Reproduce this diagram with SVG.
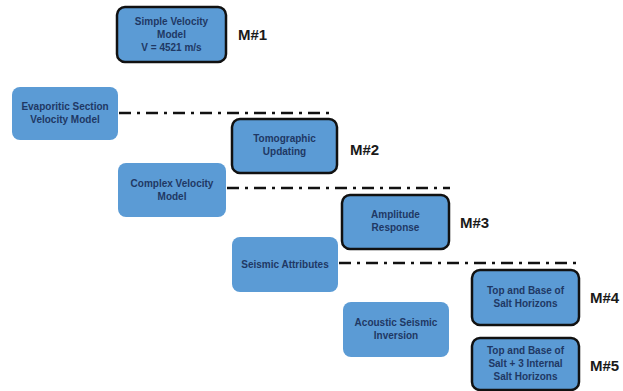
<svg xmlns="http://www.w3.org/2000/svg" width="623" height="391" viewBox="0 0 623 391">
<style>
.box{fill:#5B9BD5;}
.bord{stroke:#111;stroke-width:2.5;}
.t{font-family:"Liberation Sans",Arial,sans-serif;font-weight:bold;font-size:10px;fill:#1F3864;text-anchor:middle;}
.m{font-family:"Liberation Sans",Arial,sans-serif;font-weight:bold;font-size:15px;fill:#1a1a1a;}
.dd{stroke:#111;stroke-width:2.5;fill:none;stroke-dasharray:12 6 3 6;}
</style>
<rect width="623" height="391" fill="#fff"/>
<g id="connectors">
<line class="dd" x1="119" y1="113" x2="334" y2="113"/>
<line class="dd" x1="227" y1="188" x2="450" y2="188"/>
<line class="dd" x1="339" y1="263" x2="580" y2="263"/>
</g>
<g id="m1">
<rect class="box bord" x="117" y="7" width="109" height="55" rx="8"/>
<text class="t" x="171.5" y="25">Simple Velocity</text>
<text class="t" x="171.5" y="38">Model</text>
<text class="t" x="171.5" y="51">V = 4521 m/s</text>
<text class="m" x="238" y="40">M#1</text>
</g>
<g id="evaporitic">
<rect class="box" x="12" y="87" width="106" height="53" rx="8"/>
<text class="t" x="65" y="110">Evaporitic Section</text>
<text class="t" x="65" y="123">Velocity Model</text>
</g>
<g id="m2">
<rect class="box bord" x="232" y="119" width="105" height="54" rx="8"/>
<text class="t" x="284.5" y="142">Tomographic</text>
<text class="t" x="284.5" y="155">Updating</text>
<text class="m" x="350" y="155">M#2</text>
</g>
<g id="complex">
<rect class="box" x="118" y="163" width="108" height="54" rx="8"/>
<text class="t" x="172" y="187">Complex Velocity</text>
<text class="t" x="172" y="200">Model</text>
</g>
<g id="m3">
<rect class="box bord" x="342" y="195" width="107" height="54" rx="8"/>
<text class="t" x="395.5" y="218">Amplitude</text>
<text class="t" x="395.5" y="231">Response</text>
<text class="m" x="460" y="228">M#3</text>
</g>
<g id="attributes">
<rect class="box" x="232" y="237" width="106" height="55" rx="8"/>
<text class="t" x="285" y="268">Seismic Attributes</text>
</g>
<g id="m4">
<rect class="box bord" x="472" y="270" width="107" height="55" rx="8"/>
<text class="t" x="525.5" y="294">Top and Base of</text>
<text class="t" x="525.5" y="307">Salt Horizons</text>
<text class="m" x="590" y="303">M#4</text>
</g>
<g id="inversion">
<rect class="box" x="343" y="302" width="106" height="55" rx="8"/>
<text class="t" x="396" y="326">Acoustic Seismic</text>
<text class="t" x="396" y="339">Inversion</text>
</g>
<g id="m5">
<rect class="box bord" x="472" y="338" width="107" height="52" rx="8"/>
<text class="t" x="525.5" y="354">Top and Base of</text>
<text class="t" x="525.5" y="367">Salt + 3 Internal</text>
<text class="t" x="525.5" y="380">Salt Horizons</text>
<text class="m" x="590" y="371">M#5</text>
</g>
</svg>
